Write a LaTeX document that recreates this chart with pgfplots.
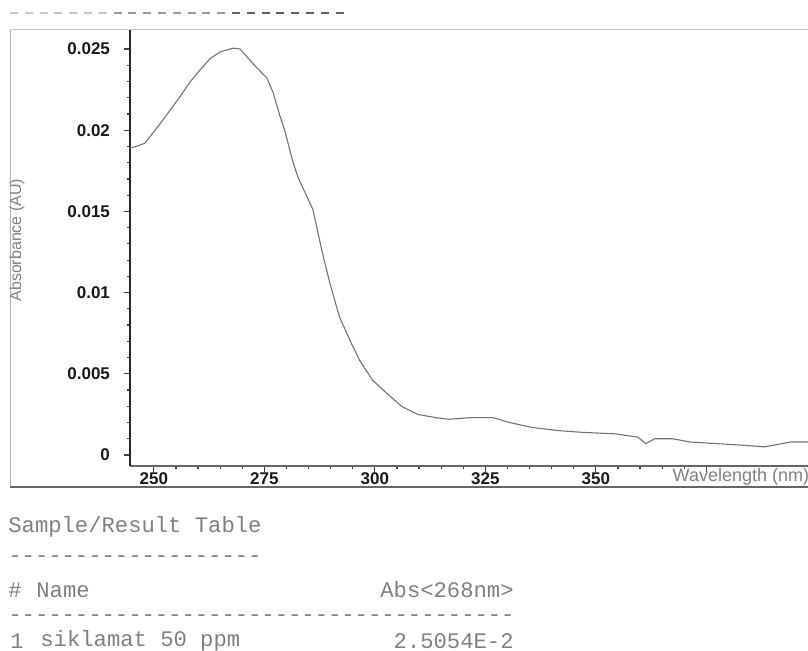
\documentclass[border=0pt]{standalone}
\usepackage{fontspec}
\setmainfont{Liberation Sans}
\setmonofont{Liberation Mono}
\usepackage{pgfplots}
\pgfplotsset{compat=1.18}

% UV absorbance scan of the sample
\pgfplotstableread{
nm     au
244.6  0.0189
246.0  0.0190
248.0  0.0192
251.4  0.0204
253.6  0.0212
256.0  0.0221
258.0  0.0229
260.4  0.0237
262.7  0.0244
264.9  0.0248
266.0  0.0249
268.0  0.02505
269.5  0.0250
272.4  0.0241
275.6  0.0232
277.0  0.0223
278.5  0.0209
279.6  0.0200
281.4  0.0181
282.6  0.0171
286.0  0.0151
288.0  0.0126
289.8  0.0106
292.0  0.0085
294.3  0.0071
296.6  0.0058
299.5  0.0046
302.7  0.0038
305.2  0.0032
306.0  0.0030
309.7  0.0025
313.8  0.0023
316.7  0.0022
321.7  0.0023
326.7  0.0023
330.5  0.0020
335.5  0.0017
341.6  0.0015
346.6  0.0014
354.5  0.0013
359.5  0.0011
361.3  0.0007
363.3  0.0010
367.4  0.0010
371.3  0.0008
377.4  0.0007
383.3  0.0006
388.2  0.0005
394.0  0.0008
398.0  0.0008
}\scan

\begin{document}
\begin{tikzpicture}
\useasboundingbox (0,0) rectangle (404pt,-325.5pt);
\clip (0,0) rectangle (404pt,-325.5pt);

\begin{scope}[x=0.5pt,y=-0.5pt]
  % printout header rule (fainter on the left, dash period 14.8 units) and frame
  \draw[black!22, line width=1.1pt, dash pattern=on 4pt off 3.4pt] (10,13) -- (113.6,13);
  \draw[black!40, line width=1.1pt, dash pattern=on 4pt off 3.4pt] (113.6,13) -- (232,13);
  \draw[black!62, line width=1.1pt, dash pattern=on 4pt off 3.4pt] (232,13) -- (350,13);
  \draw[black!22, line width=0.5pt] (10,30) -- (808,30);
  \draw[black!30, line width=0.5pt] (10,30) -- (10,487);
  \draw[black!60, line width=0.8pt] (10,487) -- (808,487);
\end{scope}

\begin{axis}[
  at={(65pt,-233pt)}, anchor=south west,
  width=339pt, height=218pt, scale only axis,
  xmin=244.6, xmax=398, ymin=-0.000677, ymax=0.02617,
  axis x line*=bottom, axis y line*=left,
  x axis line style={black!60, line width=0.7pt},
  y axis line style={black!85, line width=0.9pt},
  xtick={250,275,300,325,350,375},
  xticklabels={250,275,300,325,350,{}},
  ytick={0,0.005,0.01,0.015,0.02,0.025},
  yticklabels={0,0.005,0.01,0.015,0.02,0.025},
  scaled y ticks=false,
  minor x tick num=4, minor y tick num=4,
  tick align=outside,
  major tick length=3pt, minor tick length=1.5pt,
  every tick/.style={black!75, line width=0.6pt},
  ticklabel style={font=\bfseries\fontsize{8.5}{10}\selectfont, black!90},
  xticklabel style={yshift=3.3pt},
  yticklabel style={xshift=-3.5pt},
  xlabel={Wavelength (nm)},
  xlabel style={at={(axis description cs:0.79,-0.025)}, anchor=west,
                font=\fontsize{9}{10}\selectfont, black!50},
  ylabel={Absorbance (AU)},
  ylabel style={at={(axis description cs:-0.1667,0.518)}, anchor=center,
                font=\fontsize{8}{10}\selectfont, black!50},
  clip=false,
]
\addplot[black!55, line width=0.55pt] table[x=nm, y=au] {\scan};
\end{axis}

\begin{scope}[x=0.5pt,y=-0.5pt, every node/.style={inner sep=0pt, text=black!50,
    font=\ttfamily\fontsize{11.1}{12}\selectfont}]
  \node[anchor=west] at (8,527) {Sample/Result Table};
  \node[anchor=west] at (8,559) {-------------------};
  \node[anchor=west] at (8,590) {\#};
  \node[anchor=west] at (36,590) {Name};
  \node[anchor=east] at (514,590) {Abs<268nm>};
  \node[anchor=west] at (8,618) {--------------------------------------};
  \node[anchor=west] at (10,641) {1};
  \node[anchor=west] at (40,641) {siklamat 50 ppm};
  \node[anchor=east] at (514,641) {2.5054E-2};
\end{scope}
\end{tikzpicture}
\end{document}
